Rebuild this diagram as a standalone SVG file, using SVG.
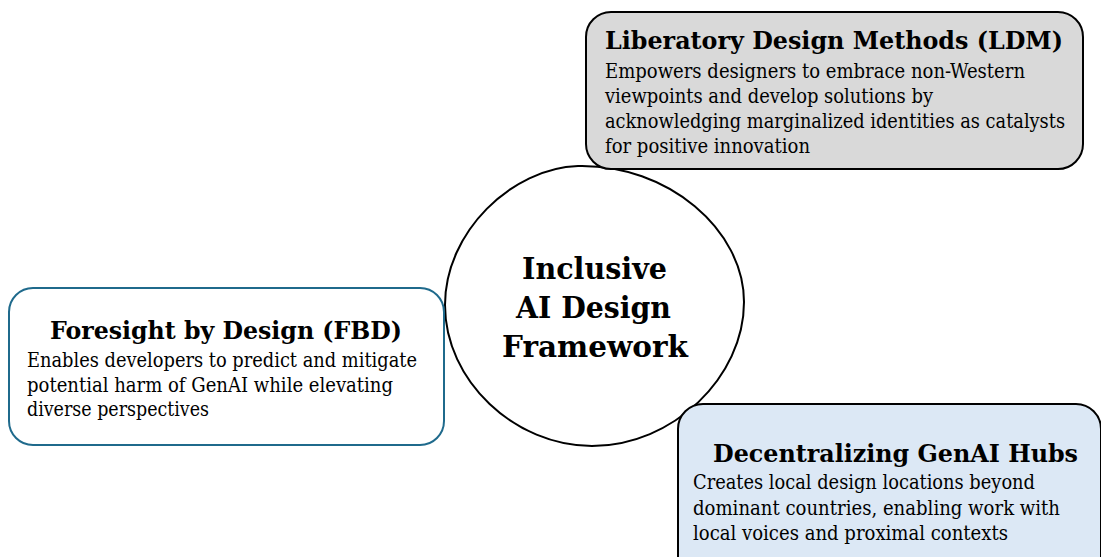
<svg xmlns="http://www.w3.org/2000/svg" width="1101" height="557" viewBox="0 0 1101 557">
<style>
text { font-family: "DejaVu Serif", "Liberation Serif", serif; fill: #000; }
.title { font-weight: bold; font-size: 25px; }
.body { font-family: "DejaVu Serif Condensed", "DejaVu Serif", "Liberation Serif", serif; font-size: 19.5px; }
.center { font-weight: bold; font-size: 30px; }
.box { stroke-width: 2; }
</style>
<rect width="1101" height="557" fill="#ffffff"/>
<g id="connectors"></g>
<g id="center-node">
<path d="M445,305 C445,232 512,168 578,166 C668,164 744,230 744,302 C744,377 673,446 592,446 C515,446 445,381 445,305 Z" fill="#ffffff" stroke="#000" stroke-width="2"/>
<text class="center" x="522" y="279" textLength="145" lengthAdjust="spacingAndGlyphs">Inclusive</text>
<text class="center" x="516" y="318" textLength="155" lengthAdjust="spacingAndGlyphs">AI Design</text>
<text class="center" x="502" y="357" textLength="186" lengthAdjust="spacingAndGlyphs">Framework</text>
</g>
<g id="ldm-node">
<rect class="box" x="586" y="12" width="497" height="157" rx="25" fill="#d9d9d9" stroke="#000"/>
<text class="title" x="605" y="49" textLength="458" lengthAdjust="spacingAndGlyphs">Liberatory Design Methods (LDM)</text>
<text class="body" x="605" y="78" textLength="420" lengthAdjust="spacingAndGlyphs">Empowers designers to embrace non-Western</text>
<text class="body" x="605" y="103" textLength="328" lengthAdjust="spacingAndGlyphs">viewpoints and develop solutions by</text>
<text class="body" x="605" y="128" textLength="460" lengthAdjust="spacingAndGlyphs">acknowledging marginalized identities as catalysts</text>
<text class="body" x="605" y="153" textLength="205" lengthAdjust="spacingAndGlyphs">for positive innovation</text>
</g>
<g id="fbd-node">
<rect class="box" x="9" y="288" width="435" height="157" rx="24" fill="#ffffff" stroke="#1f6a8c"/>
<text class="title" x="50" y="339" textLength="352" lengthAdjust="spacingAndGlyphs">Foresight by Design (FBD)</text>
<text class="body" x="27" y="367" textLength="390" lengthAdjust="spacingAndGlyphs">Enables developers to predict and mitigate</text>
<text class="body" x="27" y="392" textLength="366" lengthAdjust="spacingAndGlyphs">potential harm of GenAI while elevating</text>
<text class="body" x="27" y="416" textLength="182" lengthAdjust="spacingAndGlyphs">diverse perspectives</text>
</g>
<g id="hubs-node">
<rect class="box" x="678" y="404" width="423" height="200" rx="25" fill="#dce8f5" stroke="#000"/>
<text class="title" x="713" y="462" textLength="365" lengthAdjust="spacingAndGlyphs">Decentralizing GenAI Hubs</text>
<text class="body" x="693" y="489" textLength="342" lengthAdjust="spacingAndGlyphs">Creates local design locations beyond</text>
<text class="body" x="693" y="515" textLength="367" lengthAdjust="spacingAndGlyphs">dominant countries, enabling work with</text>
<text class="body" x="693" y="540" textLength="315" lengthAdjust="spacingAndGlyphs">local voices and proximal contexts</text>
</g>
</svg>
